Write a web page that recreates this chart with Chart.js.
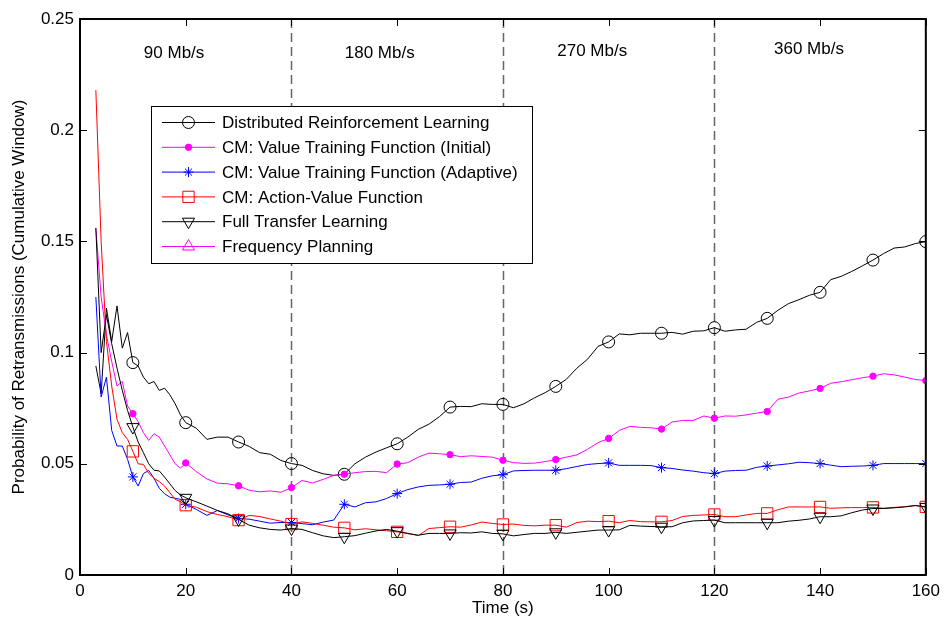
<!DOCTYPE html>
<html>
<head>
<meta charset="utf-8">
<script src="https://cdn.jsdelivr.net/npm/chart.js@4.4.1/dist/chart.umd.min.js"></script>
<style>
body{margin:0;background:#fff;}
#wrap{width:946px;height:623px;}
</style>
</head>
<body>
<div id="wrap"><canvas id="chart" width="946" height="623"></canvas></div>
<script>
// sample times (s): 1 s steps at the start, 2 s steps afterwards
const time = [3,4,5,6,7,8,9,10,11,12,13,14,15,16,17,18,19,20,
  22,24,26,28,30,32,34,36,38,40,42,44,46,48,50,52,54,56,58,60,
  62,64,66,68,70,72,74,76,78,80,82,84,86,88,90,92,94,96,98,100,
  102,104,106,108,110,112,114,116,118,120,122,124,126,128,130,132,134,136,138,140,
  142,144,146,148,150,152,154,156,158,160];

const drl = [0.094,0.0815,0.120,0.105,0.121,0.102,0.109,0.0955,0.094,0.089,0.086,0.087,0.083,0.084,0.081,0.077,0.072,0.0685,
  0.066,0.061,0.062,0.062,0.0598,0.0578,0.055,0.0543,0.0515,0.0501,
  0.0493,0.047,0.0455,0.0448,0.0453,0.0500,0.053,0.0553,0.0572,0.059,
  0.062,0.0655,0.0678,0.0712,0.0755,0.0758,0.0757,0.077,0.0767,0.0767,
  0.0752,0.077,0.0797,0.082,0.0848,0.088,0.093,0.097,0.1028,0.1048,
  0.1084,0.108,0.1087,0.1087,0.1087,0.1091,0.1083,0.1096,0.1098,0.1112,
  0.1096,0.1102,0.1105,0.1136,0.1154,0.119,0.122,0.1238,0.1258,0.1271,
  0.1328,0.1343,0.1365,0.139,0.1416,0.1445,0.147,0.1475,0.149,0.1499];

const cmInitial = [0.156,0.125,0.108,0.096,0.085,0.087,0.076,0.0725,0.069,0.064,0.0605,0.0635,0.062,0.058,0.054,0.050,0.048,0.0504,
  0.0465,0.0432,0.0413,0.041,0.0401,0.0381,0.0374,0.0378,0.0372,0.0393,
  0.0425,0.0414,0.043,0.0448,0.0453,0.046,0.0465,0.0466,0.046,0.0499,
  0.0505,0.053,0.0548,0.0545,0.0541,0.0532,0.0536,0.0533,0.053,0.0516,
  0.0505,0.0502,0.0503,0.051,0.0519,0.053,0.054,0.0565,0.0595,0.0614,
  0.065,0.0668,0.0664,0.0662,0.0656,0.0688,0.0695,0.0695,0.0715,0.0705,
  0.0715,0.0714,0.072,0.0728,0.0735,0.079,0.08,0.0818,0.0828,0.0839,
  0.0862,0.0869,0.0878,0.0887,0.0894,0.0905,0.09,0.089,0.0879,0.0874];

const cmAdaptive = [0.125,0.080,0.089,0.065,0.058,0.058,0.052,0.0441,0.040,0.0456,0.047,0.0435,0.039,0.0365,0.035,0.0345,0.034,0.0318,
  0.0295,0.0268,0.029,0.027,0.0254,0.0251,0.0242,0.0233,0.0236,0.0236,
  0.0231,0.0226,0.0238,0.0247,0.0318,0.0306,0.0325,0.0329,0.0344,0.0366,
  0.0384,0.0396,0.0403,0.0405,0.0408,0.0416,0.0418,0.0435,0.0446,0.0451,
  0.0468,0.047,0.0471,0.0471,0.0471,0.0478,0.0488,0.0497,0.0501,0.0504,
  0.0493,0.0493,0.0493,0.0492,0.0483,0.0479,0.0472,0.0467,0.046,0.0456,
  0.0467,0.047,0.0471,0.0484,0.049,0.0495,0.05,0.0507,0.0505,0.0501,
  0.0494,0.0487,0.0489,0.049,0.0493,0.0501,0.0501,0.0501,0.0501,0.0501];

const cmActionValue = [0.218,0.150,0.105,0.085,0.070,0.064,0.061,0.0556,0.050,0.0497,0.0457,0.0435,0.042,0.040,0.037,0.034,0.033,0.0314,
  0.0305,0.0285,0.0272,0.0262,0.0247,0.0268,0.0263,0.0252,0.0242,0.0229,
  0.0239,0.0232,0.0224,0.0215,0.0212,0.0203,0.0208,0.0203,0.0199,0.0194,
  0.0188,0.0177,0.0209,0.0213,0.0217,0.0215,0.0225,0.0238,0.0232,0.0227,
  0.0229,0.0223,0.0221,0.0224,0.0224,0.0215,0.0236,0.0242,0.024,0.0242,
  0.0235,0.0245,0.024,0.0239,0.0239,0.0245,0.0263,0.0268,0.027,0.0272,
  0.0262,0.0262,0.027,0.0277,0.0277,0.0293,0.0306,0.0306,0.0306,0.0306,
  0.03,0.0302,0.0303,0.0303,0.0304,0.03,0.0304,0.0307,0.0313,0.0306];

const fullTransfer = [0.156,0.100,0.117,0.104,0.093,0.083,0.074,0.0665,0.0598,0.055,0.050,0.0471,0.0468,0.044,0.041,0.038,0.036,0.0347,
  0.0329,0.031,0.029,0.0275,0.025,0.0224,0.0212,0.0205,0.0202,0.0209,
  0.0205,0.019,0.0176,0.0168,0.0172,0.0177,0.0188,0.0198,0.0205,0.0197,
  0.0186,0.0179,0.0187,0.0187,0.0187,0.019,0.0189,0.0194,0.0187,0.0185,
  0.0176,0.0182,0.0187,0.0187,0.0192,0.0187,0.0192,0.0197,0.0202,0.0202,
  0.0203,0.0223,0.022,0.0218,0.0217,0.0217,0.0235,0.0243,0.0245,0.0247,
  0.0235,0.0235,0.0235,0.0235,0.0235,0.0235,0.0242,0.0246,0.0252,0.0262,
  0.0262,0.0266,0.028,0.0292,0.0299,0.0299,0.0302,0.0306,0.0312,0.0306];

const freqPlanning = [];

// link-rate phases
const phaseBreaks = [40, 80, 120];
const phaseLabels = ['90 Mb/s', '180 Mb/s', '270 Mb/s', '360 Mb/s'];
const phaseLabelAt = [[17.8, 0.2345], [56.7, 0.2345], [96.9, 0.2355], [137.9, 0.2365]];

const FONT = '"Liberation Sans", Arial, sans-serif';

function series(label, values, color, style, size, filled, rotation, order) {
  return {
    label: label,
    data: values.map((v, i) => ({x: time[i], y: v})),
    borderColor: color,
    backgroundColor: color,
    borderWidth: 1,
    pointStyle: style,
    pointRotation: rotation,
    pointBorderColor: color,
    pointBorderWidth: 1,
    pointBackgroundColor: filled ? color : 'rgba(0,0,0,0)',
    pointRadius: c => time[c.dataIndex] % 10 === 0 ? size : 0,
    pointHoverRadius: 0,
    markerSize: size,
    tension: 0,
    order: order
  };
}

const datasets = [
  series('Distributed Reinforcement Learning', drl, '#000000', 'circle', 6, false, 0, 6),
  series('CM: Value Training Function (Initial)', cmInitial, '#ff00ff', 'circle', 3.2, true, 0, 5),
  series('CM: Value Training Function (Adaptive)', cmAdaptive, '#0000ff', 'star', 5, false, 0, 4),
  series('CM: Action-Value Function', cmActionValue, '#ff0000', 'rect', 8, false, 0, 3),
  series('Full Transfer Learning', fullTransfer, '#000000', 'triangle', 7, false, 180, 2),
  series('Frequency Planning', freqPlanning, '#ff00ff', 'triangle', 7, false, 0, 1)
];

// dashed phase boundaries and their rate labels
const phases = {
  id: 'phases',
  beforeDatasetsDraw(chart) {
    const {ctx, chartArea: a, scales: {x, y}} = chart;
    ctx.save();
    ctx.strokeStyle = '#666';
    ctx.lineWidth = 1.5;
    ctx.setLineDash([9, 5]);
    phaseBreaks.forEach(v => {
      const px = Math.round(x.getPixelForValue(v)) + 0.5;
      ctx.beginPath();
      ctx.moveTo(px, a.top);
      ctx.lineTo(px, a.bottom);
      ctx.stroke();
    });
    ctx.setLineDash([]);
    ctx.fillStyle = '#000';
    ctx.font = '17px ' + FONT;
    ctx.textAlign = 'center';
    ctx.textBaseline = 'middle';
    phaseLabels.forEach((t, i) => {
      ctx.fillText(t, x.getPixelForValue(phaseLabelAt[i][0]), y.getPixelForValue(phaseLabelAt[i][1]));
    });
    ctx.restore();
  }
};

// axes box with inward ticks on all four sides
const frame = {
  id: 'frame',
  afterDatasetsDraw(chart) {
    const {ctx, chartArea: a, scales: {x, y}} = chart;
    const len = 7;
    ctx.save();
    ctx.strokeStyle = '#000';
    ctx.lineWidth = 1;
    ctx.beginPath();
    x.ticks.forEach(t => {
      const px = Math.round(x.getPixelForValue(t.value)) + 0.5;
      ctx.moveTo(px, a.bottom); ctx.lineTo(px, a.bottom - len);
      ctx.moveTo(px, a.top); ctx.lineTo(px, a.top + len);
    });
    y.ticks.forEach(t => {
      const py = Math.round(y.getPixelForValue(t.value)) + 0.5;
      ctx.moveTo(a.left, py); ctx.lineTo(a.left + len, py);
      ctx.moveTo(a.right, py); ctx.lineTo(a.right - len, py);
    });
    ctx.stroke();
    ctx.lineWidth = 2;
    ctx.strokeRect(a.left, a.top, a.right - a.left, a.bottom - a.top);
    ctx.restore();
  }
};

// boxed legend inside the plot, upper left
const boxLegend = {
  id: 'boxLegend',
  afterDraw(chart) {
    const ctx = chart.ctx;
    const bx = 151.5, by = 106.5, bw = 381, bh = 157;
    ctx.save();
    ctx.fillStyle = '#fff';
    ctx.fillRect(bx, by, bw, bh);
    ctx.strokeStyle = '#000';
    ctx.lineWidth = 1;
    ctx.strokeRect(bx, by, bw, bh);
    ctx.font = '17px ' + FONT;
    ctx.textBaseline = 'middle';
    ctx.textAlign = 'left';
    chart.data.datasets.forEach((ds, i) => {
      const ly = 122.5 + i * 24.8;
      ctx.strokeStyle = ds.borderColor;
      ctx.lineWidth = 1;
      ctx.beginPath();
      ctx.moveTo(162, ly);
      ctx.lineTo(215, ly);
      ctx.stroke();
      ctx.fillStyle = ds.pointBackgroundColor;
      Chart.helpers.drawPoint(ctx, {
        pointStyle: ds.pointStyle,
        rotation: ds.pointRotation,
        radius: ds.markerSize,
        borderWidth: 1
      }, 188.5, ly);
      ctx.fillStyle = '#000';
      ctx.fillText(ds.label, 222, ly + 1);
    });
    ctx.restore();
  }
};

new Chart(document.getElementById('chart'), {
  type: 'line',
  data: {datasets: datasets},
  options: {
    responsive: false,
    animation: false,
    devicePixelRatio: 1,
    layout: {padding: {top: 19, right: 19, left: 0, bottom: 0}},
    plugins: {legend: {display: false}, tooltip: {enabled: false}},
    scales: {
      x: {
        type: 'linear',
        min: 0, max: 160,
        grid: {display: false, drawTicks: false},
        border: {display: false},
        ticks: {stepSize: 20, color: '#000', font: {family: FONT, size: 17}, padding: 6, maxRotation: 0, autoSkip: false},
        title: {display: true, text: 'Time (s)', color: '#000', font: {family: FONT, size: 17}, padding: {top: 0, bottom: 4}},
        afterFit: s => { s.height = 48; }
      },
      y: {
        min: 0, max: 0.25,
        grid: {display: false, drawTicks: false},
        border: {display: false},
        ticks: {stepSize: 0.05, color: '#000', font: {family: FONT, size: 17}, padding: 6,
          callback: v => String(+v.toFixed(2))},
        title: {display: true, text: 'Probability of Retransmissions (Cumulative Window)', color: '#000',
          font: {family: FONT, size: 17}, padding: {top: 9, bottom: 0}},
        afterFit: s => { s.width = 80; }
      }
    }
  },
  plugins: [phases, frame, boxLegend]
});
</script>
</body>
</html>
